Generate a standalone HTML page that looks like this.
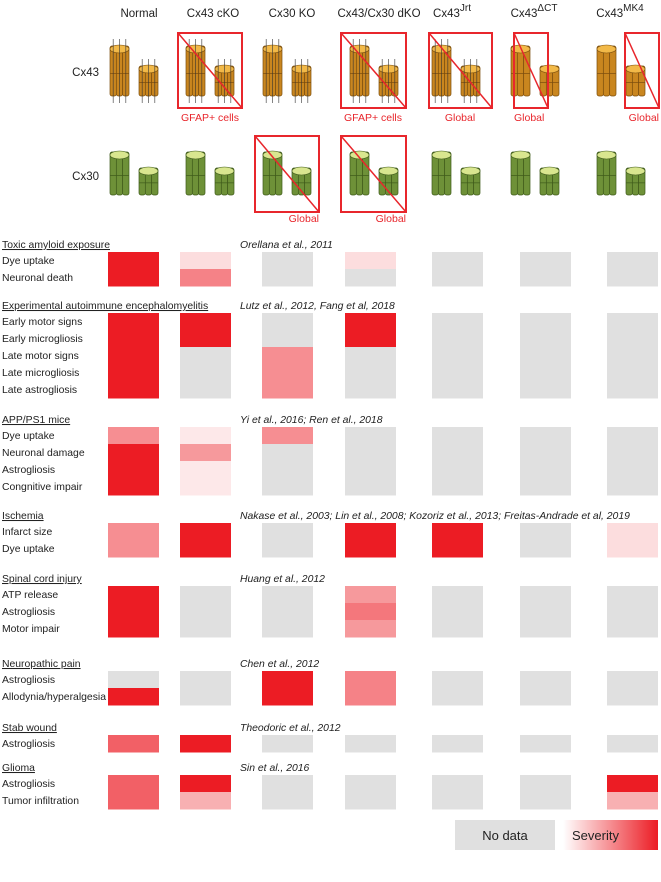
<!DOCTYPE html>
<html><head><meta charset="utf-8">
<style>
body{margin:0;background:#fff;}
svg text{font-family:"Liberation Sans",sans-serif;}
</style></head>
<body>
<svg id="fig" width="661" height="877" viewBox="0 0 661 877" xmlns="http://www.w3.org/2000/svg">
<defs>
<linearGradient id="sev" x1="0" x2="1" y1="0" y2="0"><stop offset="0" stop-color="#ffffff"/><stop offset="1" stop-color="#ec1c24"/></linearGradient>
</defs>
<g id="topg"></g>
<g id="grid"></g>
<g>
<rect x="455" y="820" width="100" height="30" fill="#e0e0e0"/>
<text x="505" y="840" text-anchor="middle" font-size="13" fill="#222">No data</text>
<rect x="563" y="820" width="95" height="30" fill="url(#sev)"/>
<text x="572" y="840" font-size="13" fill="#222">Severity</text>
</g>
</svg>
<script>
const NS='http://www.w3.org/2000/svg';
function mk(p,tag,at,txt){const e=document.createElementNS(NS,tag);for(const k in at)e.setAttribute(k,at[k]);if(txt!==undefined)e.textContent=txt;p.appendChild(e);return e;}
const topG=document.getElementById('topg'),grid=document.getElementById('grid');

const genotypes=['Normal','Cx43 cKO','Cx30 KO','Cx43/Cx30 dKO','Cx43','Cx43','Cx43'];
const supers=['','','','','Jrt','ΔCT','MK4'];
const labelX=[139,213,292,379,460,542,628];
const iconX=[139,215,292,379,461,540,626];
const blockX=[108,180,262,345,432,520,607];

genotypes.forEach((g,i)=>{
  const t=mk(topG,'text',{x:labelX[i]+(supers[i]?-8:0),y:17,'text-anchor':'middle','font-size':11.5,fill:'#222'});
  
  
  t.textContent=g;
  if(supers[i]){mk(t,'tspan',{dy:-6,'font-size':10},supers[i]);}
});
let t1=mk(topG,'text',{x:99,y:76,'text-anchor':'end','font-size':11.5,fill:'#222'},'Cx43');


let t2=mk(topG,'text',{x:99,y:180,'text-anchor':'end','font-size':11.5,fill:'#222'},'Cx30');



function cluster(x,y,w,h,fill,dark,light,pins){
  const g=mk(topG,'g',{});
  const cw=w/3;
  for(let k=0;k<3;k++){
    mk(g,'rect',{x:x+k*cw,y:y,width:cw,height:h,rx:2,fill:fill,stroke:dark,'stroke-width':0.7});
    mk(g,'line',{x1:x+k*cw,x2:x+(k+1)*cw,y1:y+h*0.55,y2:y+h*0.55,stroke:dark,'stroke-width':0.7});
  }
  mk(g,'ellipse',{cx:x+w/2,cy:y+3,rx:w/2,ry:4,fill:light,stroke:dark,'stroke-width':0.6});
  if(pins){for(let k=0;k<3;k++){mk(g,'line',{x1:x+cw*(k+0.5),x2:x+cw*(k+0.5),y1:y-7,y2:y+h+7,stroke:'#333','stroke-width':0.6});}}
  return g;
}
iconX.forEach((cx,i)=>{
  const pins=(i<=4);
  cluster(cx-29,46,19,50,'#c9861f','#7a4d0d','#f2b948',pins);
  cluster(cx,66,19,30,'#c9861f','#7a4d0d','#f2b948',pins);
  cluster(cx-29,152,19,43,'#6e9138','#3e5a1a','#d9e68f',false);
  cluster(cx,168,19,27,'#6e9138','#3e5a1a','#d9e68f',false);
});
const boxes=[[178,33,64,75,'GFAP+ cells',210,121,'middle'],[341,33,65,75,'GFAP+ cells',373,121,'middle'],[429,33,63,75,'Global',460,121,'middle'],[514,33,34,75,'Global',514,121,'start'],[625,33,34,75,'Global',659,121,'end'],
 [255,136,64,76,'Global',319,222,'end'],[341,136,65,76,'Global',406,222,'end']];
boxes.forEach(b=>{
  const r=mk(topG,'rect',{x:b[0],y:b[1],width:b[2],height:b[3],fill:'none',stroke:'#e8262c','stroke-width':2});
  
  
  mk(topG,'line',{x1:b[0],y1:b[1],x2:b[0]+b[2],y2:b[1]+b[3],stroke:'#e8262c','stroke-width':1.5});
  const t=mk(topG,'text',{x:b[5],y:b[6],'text-anchor':b[7],'font-size':10.5,fill:'#e8262c'},b[4]);
  
  
});

// ---- chart data ----
const groupTitles=['Toxic amyloid exposure','Experimental autoimmune encephalomyelitis','APP/PS1 mice','Ischemia','Spinal cord injury','Neuropathic pain','Stab wound','Glioma'];
const citations=['Orellana et al., 2011','Lutz et al., 2012, Fang et al, 2018','Yi et al., 2016; Ren et al., 2018','Nakase et al., 2003; Lin et al., 2008; Kozoriz et al., 2013; Freitas-Andrade et al, 2019','Huang et al., 2012','Chen et al., 2012','Theodoric et al., 2012','Sin et al., 2016'];
const rowLabels=[['Dye uptake','Neuronal death'],['Early motor signs','Early microgliosis','Late motor signs','Late microgliosis','Late astrogliosis'],['Dye uptake','Neuronal damage','Astrogliosis','Congnitive impair'],['Infarct size','Dye uptake'],['ATP release','Astrogliosis','Motor impair'],['Astrogliosis','Allodynia/hyperalgesia'],['Astrogliosis'],['Astrogliosis','Tumor infiltration']];
const groupY=[244,305,419,515,578,663,727,767];
const N=null;
const sevToxic=[[1,1],[0.15,0.55],[N,N],[0.15,N],[N,N],[N,N],[N,N]];
const sevEAE=[[1,1,1,1,1],[1,1,N,N,N],[N,N,0.5,0.5,0.5],[1,1,N,N,N],[N,N,N,N,N],[N,N,N,N,N],[N,N,N,N,N]];
const sevAPP=[[0.5,1,1,1],[0.1,0.45,0.1,0.1],[0.5,N,N,N],[N,N,N,N],[N,N,N,N],[N,N,N,N],[N,N,N,N]];
const sevIschemia=[[0.5,0.5],[1,1],[N,N],[1,1],[1,1],[N,N],[0.15,0.15]];
const sevSpinal=[[1,1,1],[N,N,N],[N,N,N],[0.45,0.6,0.45],[N,N,N],[N,N,N],[N,N,N]];
const sevPain=[[N,1],[N,N],[1,1],[0.55,0.55],[N,N],[N,N],[N,N]];
const sevStab=[[0.7],[1],[N],[N],[N],[N],[N]];
const sevGlioma=[[0.7,0.7],[1,0.35],[N,N],[N,N],[N,N],[N,N],[1,0.35]];
const severity=[sevToxic,sevEAE,sevAPP,sevIschemia,sevSpinal,sevPain,sevStab,sevGlioma];

const ROWH=17, BLOCKW=51;
function color(v){ if(v===null) return '#e0e0e0';
  const a=[255,255,255],b=[236,28,36];
  return 'rgb('+a.map((c,i)=>Math.round(c+(b[i]-c)*v)).join(',')+')';}
function xScale(col){return blockX[col];}
function yScale(g,row){return groupY[g]+8+row*ROWH;}

groupTitles.forEach((title,g)=>{
  const h=mk(grid,'text',{x:2,y:groupY[g]+4,'font-size':10.4,fill:'#222','text-decoration':'underline'},title);
  
  
  const c=mk(grid,'text',{x:240,y:groupY[g]+4,'font-size':10.4,'font-style':'italic',fill:'#222'},citations[g]);
  
  
  rowLabels[g].forEach((lab,r)=>{
    const t=mk(grid,'text',{x:2,y:yScale(g,r)+12,'font-size':10.4,fill:'#222'},lab);
    
    
  });
  severity[g].forEach((colVals,col)=>{
    colVals.forEach((v,r)=>{
      const rc=mk(grid,'rect',{x:xScale(col),y:yScale(g,r),width:BLOCKW,height:ROWH+0.5,fill:color(v)});
      
      
    });
  });
});
</script>
</body></html>
